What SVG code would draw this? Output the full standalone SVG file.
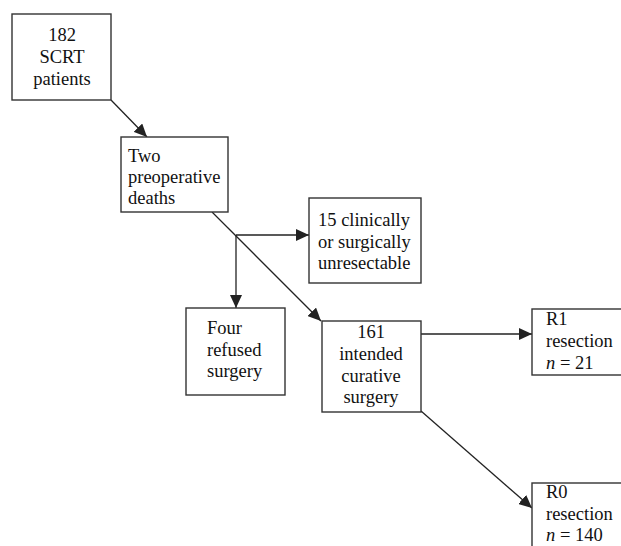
<svg xmlns="http://www.w3.org/2000/svg" width="621" height="546" viewBox="0 0 621 546">
<defs>
<style>
.box{fill:#fff;stroke:#333;stroke-width:1.4}
text{font-family:'Liberation Serif','Times New Roman',Times,serif;font-size:18.5px;fill:#111}
.c{text-anchor:middle}
.ln{stroke:#222;stroke-width:1.3;fill:none;marker-end:url(#ah)}
</style>
<marker id="ah" markerUnits="userSpaceOnUse" markerWidth="14" markerHeight="12" refX="13" refY="6" orient="auto">
<path d="M0,0 L13,6 L0,12 Z" fill="#222"/>
</marker>
</defs>
<rect width="621" height="546" fill="#fff"/>
<g id="connectors">
<line class="ln" x1="111" y1="100" x2="147" y2="137"/>
<line class="ln" x1="212" y1="212" x2="321" y2="321"/>
<line class="ln" x1="236" y1="235" x2="309" y2="235"/>
<line class="ln" x1="236" y1="235" x2="236" y2="308"/>
<line class="ln" x1="421" y1="334" x2="532" y2="334"/>
<line class="ln" x1="421" y1="411" x2="532" y2="508"/>
</g>
<g font-family="Liberation Serif, Times New Roman, serif">
<g id="n182">
<rect class="box" x="12" y="14" width="99" height="86"/>
<text class="c" x="62" y="41">182</text>
<text class="c" x="62" y="63">SCRT</text>
<text class="c" x="62" y="85">patients</text>
</g>
<g id="deaths">
<rect class="box" x="121" y="137" width="107" height="75"/>
<text x="128" y="162">Two</text>
<text x="128" y="183">preoperative</text>
<text x="128" y="204">deaths</text>
</g>
<g id="unresectable">
<rect class="box" x="309" y="198" width="112" height="85"/>
<text x="318" y="226">15 clinically</text>
<text x="318" y="248">or surgically</text>
<text x="318" y="269">unresectable</text>
</g>
<g id="refused">
<rect class="box" x="186" y="308" width="99" height="87"/>
<text x="207" y="334">Four</text>
<text x="207" y="356">refused</text>
<text x="207" y="377">surgery</text>
</g>
<g id="curative">
<rect class="box" x="322" y="321" width="99" height="91"/>
<text class="c" x="371" y="338">161</text>
<text class="c" x="371" y="360">intended</text>
<text class="c" x="371" y="382">curative</text>
<text class="c" x="371" y="403">surgery</text>
</g>
<g id="r1">
<rect class="box" x="532" y="309" width="100" height="66"/>
<text x="546" y="325">R1</text>
<text x="546" y="347">resection</text>
<text x="546" y="369"><tspan font-style="italic">n</tspan> = 21</text>
</g>
<g id="r0">
<rect class="box" x="532" y="483" width="100" height="80"/>
<text x="546" y="498">R0</text>
<text x="546" y="520">resection</text>
<text x="546" y="541"><tspan font-style="italic">n</tspan> = 140</text>
</g>
</g>
</svg>
